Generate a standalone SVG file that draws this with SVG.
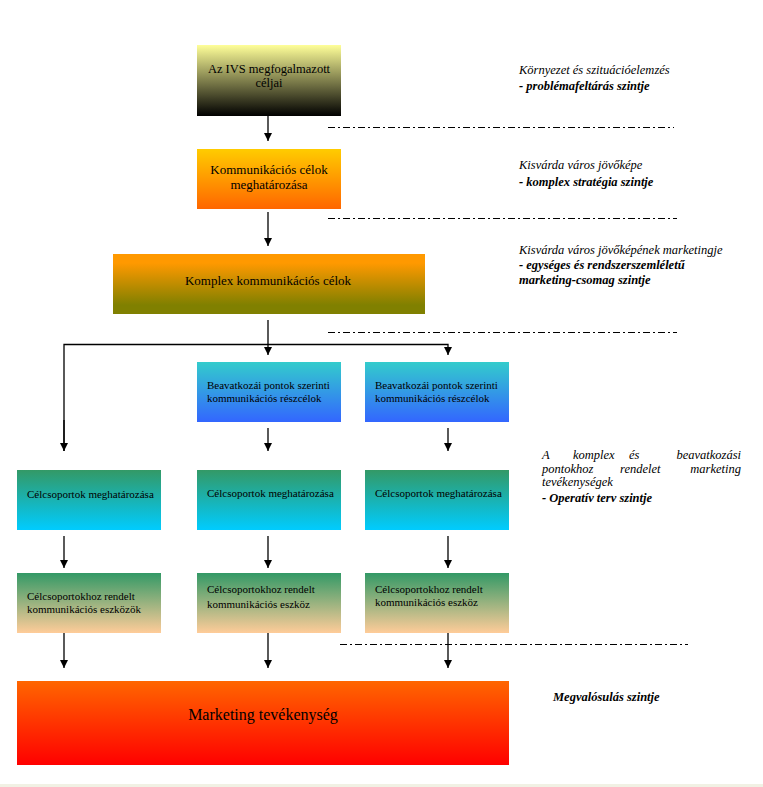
<svg xmlns="http://www.w3.org/2000/svg" width="763" height="787" viewBox="0 0 763 787">
<style>
  .box-text { font-family: "Liberation Serif", "Times New Roman", serif; fill: #000; }
  .note { font-family: "Liberation Serif", "Times New Roman", serif; font-style: italic; font-size: 12.5px; fill: #000; }
  .note-b { font-weight: bold; }
  .conn { stroke: #000; stroke-width: 1.3; fill: none; }
  .sep { stroke: #000; stroke-width: 1; stroke-dasharray: 7 3 2 3; fill: none; }
</style>
<defs>
  <linearGradient id="g1" x1="0" y1="0" x2="0" y2="1"><stop offset="0" stop-color="#ffff99"/><stop offset="1" stop-color="#000000"/></linearGradient>
  <linearGradient id="g2" x1="0" y1="0" x2="0" y2="1"><stop offset="0" stop-color="#ffcc00"/><stop offset="1" stop-color="#ff6600"/></linearGradient>
  <linearGradient id="g3" x1="0" y1="0" x2="0" y2="1"><stop offset="0" stop-color="#ff9900"/><stop offset="0.15" stop-color="#ff9900"/><stop offset="0.85" stop-color="#808000"/><stop offset="1" stop-color="#808000"/></linearGradient>
  <linearGradient id="g4" x1="0" y1="0" x2="0" y2="1"><stop offset="0" stop-color="#33cccc"/><stop offset="1" stop-color="#3366ff"/></linearGradient>
  <linearGradient id="g5" x1="0" y1="0" x2="0" y2="1"><stop offset="0" stop-color="#339966"/><stop offset="1" stop-color="#00ccff"/></linearGradient>
  <linearGradient id="g6" x1="0" y1="0" x2="0" y2="1"><stop offset="0" stop-color="#339966"/><stop offset="1" stop-color="#ffcc99"/></linearGradient>
  <linearGradient id="g7" x1="0" y1="0" x2="0" y2="1"><stop offset="0" stop-color="#ff6600"/><stop offset="1" stop-color="#ff0000"/></linearGradient>
  <marker id="arr" markerWidth="8" markerHeight="9" refX="4" refY="8" orient="auto" markerUnits="userSpaceOnUse" viewBox="0 0 8 9">
    <path d="M0,0 L8,0 L4,9 Z" fill="#000" transform="rotate(-90 4 4.5) translate(-0.5 0.5)"/>
  </marker>
  <marker id="ah" viewBox="0 0 10 10" refX="10" refY="5" markerWidth="8" markerHeight="8" markerUnits="userSpaceOnUse" orient="auto">
    <path d="M0,0 L10,5 L0,10 Z" fill="#000"/>
  </marker>
</defs>
<rect x="0" y="0" width="763" height="787" fill="#ffffff"/>
<rect x="0" y="784" width="763" height="3" fill="#f1f1e4"/>

<g id="separators">
  <line class="sep" x1="328" y1="127.5" x2="674" y2="127.5"/>
  <line class="sep" x1="328" y1="218.5" x2="677" y2="218.5"/>
  <line class="sep" x1="328" y1="332.5" x2="677" y2="332.5"/>
  <line class="sep" x1="340" y1="644.5" x2="688" y2="644.5"/>
</g>

<g id="connectors">
  <line class="conn" x1="268" y1="116" x2="268" y2="141" marker-end="url(#ah)"/>
  <line class="conn" x1="268" y1="212" x2="268" y2="246" marker-end="url(#ah)"/>
  <line class="conn" x1="268" y1="320" x2="268" y2="355" marker-end="url(#ah)"/>
  <polyline class="conn" points="64,451 64,344.5 448,344.5 448,355" marker-end="url(#ah)"/>
  <line class="conn" x1="64" y1="420" x2="64" y2="451" marker-end="url(#ah)"/>
  <line class="conn" x1="268" y1="428" x2="268" y2="451" marker-end="url(#ah)"/>
  <line class="conn" x1="448" y1="428" x2="448" y2="451" marker-end="url(#ah)"/>
  <line class="conn" x1="64" y1="536" x2="64" y2="568" marker-end="url(#ah)"/>
  <line class="conn" x1="268" y1="536" x2="268" y2="568" marker-end="url(#ah)"/>
  <line class="conn" x1="448" y1="536" x2="448" y2="568" marker-end="url(#ah)"/>
  <line class="conn" x1="64" y1="633" x2="64" y2="668" marker-end="url(#ah)"/>
  <line class="conn" x1="268" y1="633" x2="268" y2="668" marker-end="url(#ah)"/>
  <line class="conn" x1="448" y1="633" x2="448" y2="668" marker-end="url(#ah)"/>
</g>

<g id="n-ivs">
  <rect x="197" y="45" width="144" height="71" fill="url(#g1)"/>
  <text class="box-text" font-size="12.5" text-anchor="middle" x="269" y="73">Az IVS megfogalmazott</text>
  <text class="box-text" font-size="12.5" text-anchor="middle" x="269" y="87">céljai</text>
</g>
<g id="n-komm">
  <rect x="197" y="149" width="144" height="60" fill="url(#g2)"/>
  <text class="box-text" font-size="13" text-anchor="middle" x="269" y="174">Kommunikációs célok</text>
  <text class="box-text" font-size="13" text-anchor="middle" x="269" y="189">meghatározása</text>
</g>
<g id="n-komplex">
  <rect x="113" y="254" width="312" height="60" fill="url(#g3)"/>
  <text class="box-text" font-size="13" text-anchor="middle" x="268" y="285">Komplex kommunikációs célok</text>
</g>
<g id="n-beav1">
  <rect x="197" y="362" width="144" height="60" fill="url(#g4)"/>
  <text class="box-text" font-size="11" x="207" y="389">Beavatkozái pontok szerinti</text>
  <text class="box-text" font-size="11" x="207" y="402">kommunikációs részcélok</text>
</g>
<g id="n-beav2">
  <rect x="365" y="362" width="144" height="60" fill="url(#g4)"/>
  <text class="box-text" font-size="11" x="375" y="389">Beavatkozái pontok szerinti</text>
  <text class="box-text" font-size="11" x="375" y="402">kommunikációs részcélok</text>
</g>
<g id="n-cel1">
  <rect x="17" y="470" width="144" height="60" fill="url(#g5)"/>
  <text class="box-text" font-size="11" x="27" y="498">Célcsoportok meghatározása</text>
</g>
<g id="n-cel2">
  <rect x="197" y="470" width="144" height="60" fill="url(#g5)"/>
  <text class="box-text" font-size="11" x="207" y="497">Célcsoportok meghatározása</text>
</g>
<g id="n-cel3">
  <rect x="365" y="470" width="144" height="60" fill="url(#g5)"/>
  <text class="box-text" font-size="11" x="375" y="497">Célcsoportok meghatározása</text>
</g>
<g id="n-eszk1">
  <rect x="17" y="573" width="144" height="60" fill="url(#g6)"/>
  <text class="box-text" font-size="11" x="27" y="600">Célcsoportokhoz rendelt</text>
  <text class="box-text" font-size="11" x="27" y="613">kommunikációs  eszközök</text>
</g>
<g id="n-eszk2">
  <rect x="197" y="573" width="144" height="60" fill="url(#g6)"/>
  <text class="box-text" font-size="11" x="207" y="593">Célcsoportokhoz rendelt</text>
  <text class="box-text" font-size="11" x="207" y="608">kommunikációs  eszköz</text>
</g>
<g id="n-eszk3">
  <rect x="365" y="573" width="144" height="60" fill="url(#g6)"/>
  <text class="box-text" font-size="11" x="375" y="593">Célcsoportokhoz rendelt</text>
  <text class="box-text" font-size="11" x="375" y="606">kommunikációs  eszköz</text>
</g>
<g id="n-marketing">
  <rect x="17" y="681" width="492" height="84" fill="url(#g7)"/>
  <text class="box-text" font-size="16" text-anchor="middle" x="263" y="720">Marketing tevékenység</text>
</g>

<g id="level-notes">
  <text class="note" x="519" y="74">Környezet és szituációelemzés</text>
  <text class="note note-b" x="519" y="90">- problémafeltárás szintje</text>
  <text class="note" x="519" y="169">Kisvárda város jövőképe</text>
  <text class="note note-b" x="519" y="186">- komplex stratégia szintje</text>
  <text class="note" x="519" y="254">Kisvárda város jövőképének marketingje</text>
  <text class="note note-b" x="519" y="269">- egységes és rendszerszemléletű</text>
  <text class="note note-b" x="519" y="284">marketing-csomag szintje</text>
  <text class="note" x="542" y="459">A</text>
  <text class="note" x="573" y="459">komplex</text>
  <text class="note" x="629" y="459">és</text>
  <text class="note" x="741" y="459" text-anchor="end">beavatkozási</text>
  <text class="note" x="542" y="473">pontokhoz</text>
  <text class="note" x="620" y="473">rendelet</text>
  <text class="note" x="741" y="473" text-anchor="end">marketing</text>
  <text class="note" x="542" y="486">tevékenységek</text>
  <text class="note note-b" x="542" y="502">- Operatív terv szintje</text>
  <text class="note note-b" x="553" y="701">Megvalósulás szintje</text>
</g>
</svg>
